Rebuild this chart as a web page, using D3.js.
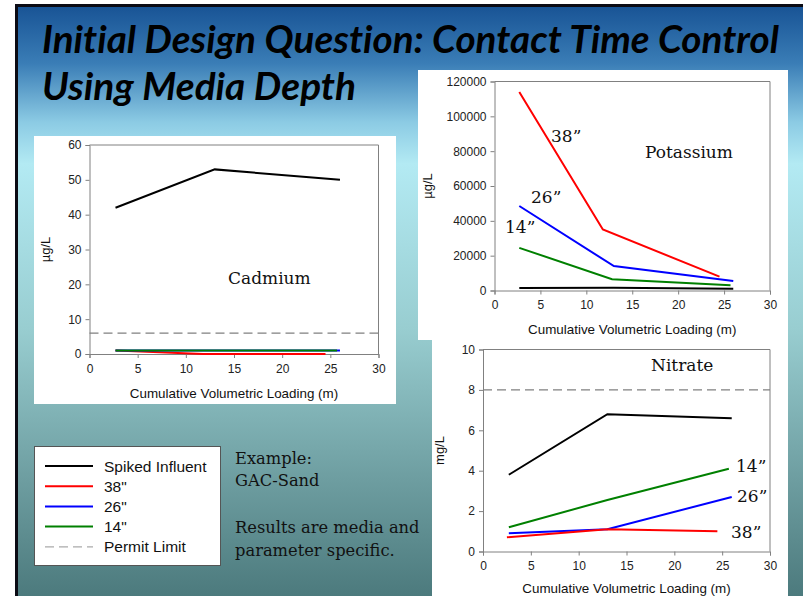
<!DOCTYPE html>
<html>
<head>
<meta charset="utf-8">
<script src="https://cdn.jsdelivr.net/npm/d3@7"></script>
<style>
  html, body { margin: 0; padding: 0; background: #ffffff; }
  svg { display: block; }
</style>
</head>
<body>
<svg id="slide" width="803" height="596"></svg>
<script>
// ---- Data: cumulative volumetric loading (m) vs. effluent concentration ----
const seriesNames = ["Spiked Influent", "38\"", "26\"", "14\""];
const seriesColors = ["#000000", "#ff0000", "#0000ff", "#008000"];

// Cadmium (µg/L)
const cadX = [[2.7, 13, 26], [2.7, 11.8, 24.5], [2.7, 13, 26], [2.7, 13, 25.7]];
const cadY = [[42, 53, 50], [1, 0, 0], [1, 1, 1], [1, 1, 1]];
const cadLimit = 6;
const cadTicksY = [0, 10, 20, 30, 40, 50, 60];

// Potassium (µg/L)
const kX = [[2.7, 13, 26], [2.7, 11.8, 24.5], [2.7, 13, 26], [2.7, 12.8, 25.7]];
const kY = [[1500, 1600, 1000], [114000, 35000, 8000], [48500, 14000, 5500], [24500, 6500, 3000]];
const kTicksY = [0, 20000, 40000, 60000, 80000, 100000, 120000];

// Nitrate (mg/L)
const nX = [[2.7, 13, 26], [2.5, 13, 24.5], [2.7, 13, 26], [2.7, 13, 25.7]];
const nY = [[3.8, 6.8, 6.6], [0.7, 1.1, 1.0], [0.9, 1.1, 2.7], [1.2, 2.55, 4.1]];
const nLimit = 8;
const nTicksY = [0, 2, 4, 6, 8, 10];

const xTicks = [0, 5, 10, 15, 20, 25, 30];
const xTitle = "Cumulative Volumetric Loading (m)";

const svg = d3.select("#slide");

// ---- Slide background ----
const defs = svg.append("defs");
const grad = defs.append("linearGradient").attr("id", "bg")
  .attr("x1", 0).attr("y1", 0).attr("x2", 0).attr("y2", 1);
[[0, "#175294"], [0.1, "#3a7db6"], [0.2, "#8ccbe4"], [0.27, "#b3eaf3"],
 [0.55, "#98cdd0"], [0.8, "#6e9ea1"], [1, "#4c7a7d"]]
  .forEach(([o, c]) => grad.append("stop").attr("offset", o).attr("stop-color", c));

svg.append("rect").attr("x", 15).attr("y", 4).attr("width", 788).attr("height", 592)
  .attr("fill", "url(#bg)");
// dark frame along the top and left edge
svg.append("rect").attr("x", 15).attr("y", 4).attr("width", 788).attr("height", 3).attr("fill", "#0b0b14");
svg.append("rect").attr("x", 15).attr("y", 4).attr("width", 3).attr("height", 592).attr("fill", "#0b0b14");

// ---- Title ----
const title = svg.append("g")
  .attr("font-family", "Lato, 'Open Sans', sans-serif")
  .attr("font-weight", "bold").attr("font-style", "italic")
  .attr("font-size", 38).attr("fill", "#000")
  .style("font-variant-ligatures", "none");
title.append("text").attr("x", 42).attr("y", 53)
  .attr("textLength", 737).attr("lengthAdjust", "spacingAndGlyphs")
  .text("Initial Design Question: Contact Time Control");
title.append("text").attr("x", 42).attr("y", 100)
  .attr("textLength", 314).attr("lengthAdjust", "spacingAndGlyphs")
  .text("Using Media Depth");

// ---- Chart builder ----
function drawChart(cfg) {
  const g = svg.append("g");
  g.append("rect").attr("x", cfg.panel[0]).attr("y", cfg.panel[1])
    .attr("width", cfg.panel[2]).attr("height", cfg.panel[3]).attr("fill", "#ffffff");

  const x = d3.scaleLinear().domain([0, 30]).range([cfg.plot[0], cfg.plot[1]]);
  const y = d3.scaleLinear().domain([cfg.yTicks[0], cfg.yTicks[cfg.yTicks.length - 1]])
    .range([cfg.plot[3], cfg.plot[2]]);

  // plot area frame (top and right)
  g.append("path")
    .attr("d", `M${x(0)},${y.range()[1]}H${x(30)}V${y.range()[0]}`)
    .attr("fill", "none").attr("stroke", "#808080").attr("stroke-width", 1);

  const xAxis = g.append("g").attr("transform", `translate(0,${y.range()[0]})`)
    .call(d3.axisBottom(x).tickValues(xTicks).tickSize(4).tickPadding(6).tickFormat(d3.format("d")));
  const yAxis = g.append("g").attr("transform", `translate(${x(0)},0)`)
    .call(d3.axisLeft(y).tickValues(cfg.yTicks).tickSize(4).tickPadding(4).tickFormat(d3.format("d")));
  [xAxis, yAxis].forEach(a => {
    a.select(".domain").attr("stroke", "#808080");
    a.selectAll(".tick line").attr("stroke", "#808080");
    a.selectAll(".tick text").attr("fill", "#222").attr("font-size", 12)
      .attr("font-family", "Arial, 'Liberation Sans', sans-serif");
  });

  // axis titles
  g.append("text").attr("x", (x(0) + x(30)) / 2).attr("y", cfg.xTitleY)
    .attr("text-anchor", "middle").attr("font-size", 13.4)
    .attr("font-family", "Arial, 'Liberation Sans', sans-serif").attr("fill", "#111")
    .text(xTitle);
  g.append("text")
    .attr("transform", `translate(${cfg.yTitleX},${(y.range()[0] + y.range()[1]) / 2}) rotate(-90)`)
    .attr("text-anchor", "middle").attr("font-size", 13)
    .attr("font-family", "Arial, 'Liberation Sans', sans-serif").attr("fill", "#111")
    .text(cfg.yLabel);

  // permit limit
  if (cfg.limit !== undefined) {
    g.append("line").attr("x1", x(0)).attr("x2", x(30))
      .attr("y1", y(cfg.limit)).attr("y2", y(cfg.limit))
      .attr("stroke", "#808080").attr("stroke-width", 1.3).attr("stroke-dasharray", "9,5");
  }

  const line = d3.line().x(d => x(d[0])).y(d => y(d[1]));
  cfg.order.forEach(i => {
    const pts = cfg.xs[i].map((v, k) => [v, cfg.ys[i][k]]);
    g.append("path").attr("d", line(pts)).attr("fill", "none")
      .attr("stroke", seriesColors[i]).attr("stroke-width", 2);
  });

  // chart labels
  cfg.labels.forEach(l => {
    g.append("text").attr("x", l[0]).attr("y", l[1]).attr("font-size", l[3])
      .attr("font-family", "'DejaVu Serif', 'Liberation Serif', serif").attr("fill", "#111")
      .text(l[2]);
  });
}

drawChart({
  panel: [34, 136, 362, 268], plot: [89.5, 378.5, 145, 354],
  yTicks: cadTicksY, xs: cadX, ys: cadY, limit: cadLimit, order: [0, 1, 2, 3],
  xTitleY: 398, yTitleX: 50, yLabel: "µg/L",
  labels: [[228, 284, "Cadmium", 17]]
});

drawChart({
  panel: [418, 70, 370, 270], plot: [494.5, 770, 81.5, 290.5],
  yTicks: kTicksY, xs: kX, ys: kY, order: [1, 2, 3, 0],
  xTitleY: 334, yTitleX: 432, yLabel: "µg/L",
  labels: [[645, 158, "Potassium", 17], [551, 142, "38”", 17], [531, 203, "26”", 17], [505, 233, "14”", 17]]
});

drawChart({
  panel: [432, 340, 356, 256], plot: [483, 770, 349.5, 551.5],
  yTicks: nTicksY, xs: nX, ys: nY, limit: nLimit, order: [0, 3, 2, 1],
  xTitleY: 593, yTitleX: 444, yLabel: "mg/L",
  labels: [[651, 371, "Nitrate", 17], [736, 472, "14”", 17], [737, 502, "26”", 17], [731, 538, "38”", 17]]
});

// ---- Legend ----
const legend = svg.append("g");
legend.append("rect").attr("x", 34.5).attr("y", 446.5).attr("width", 186).attr("height", 119)
  .attr("fill", "#ffffff").attr("stroke", "#555").attr("stroke-width", 1);
const legendItems = seriesNames.concat(["Permit Limit"]);
legendItems.forEach((name, i) => {
  const yy = 466 + i * 20.2;
  const isLimit = i === 4;
  legend.append("line").attr("x1", 45).attr("x2", 93).attr("y1", yy).attr("y2", yy)
    .attr("stroke", isLimit ? "#aaaaaa" : seriesColors[i])
    .attr("stroke-width", isLimit ? 1.3 : 2)
    .attr("stroke-dasharray", isLimit ? "9,5" : null);
  legend.append("text").attr("x", 104).attr("y", yy + 5.5)
    .attr("font-size", 15.5).attr("font-family", "Arial, 'Liberation Sans', sans-serif")
    .attr("fill", "#111").text(name);
});

// ---- Side note ----
const note = svg.append("g").attr("font-family", "'DejaVu Serif', 'Liberation Serif', serif")
  .attr("font-size", 16.3).attr("fill", "#111");
[["Example:", 464], ["GAC-Sand", 486], ["Results are media and", 533], ["parameter specific.", 556]]
  .forEach(([t, yy]) => note.append("text").attr("x", 235).attr("y", yy).text(t));
</script>
</body>
</html>
